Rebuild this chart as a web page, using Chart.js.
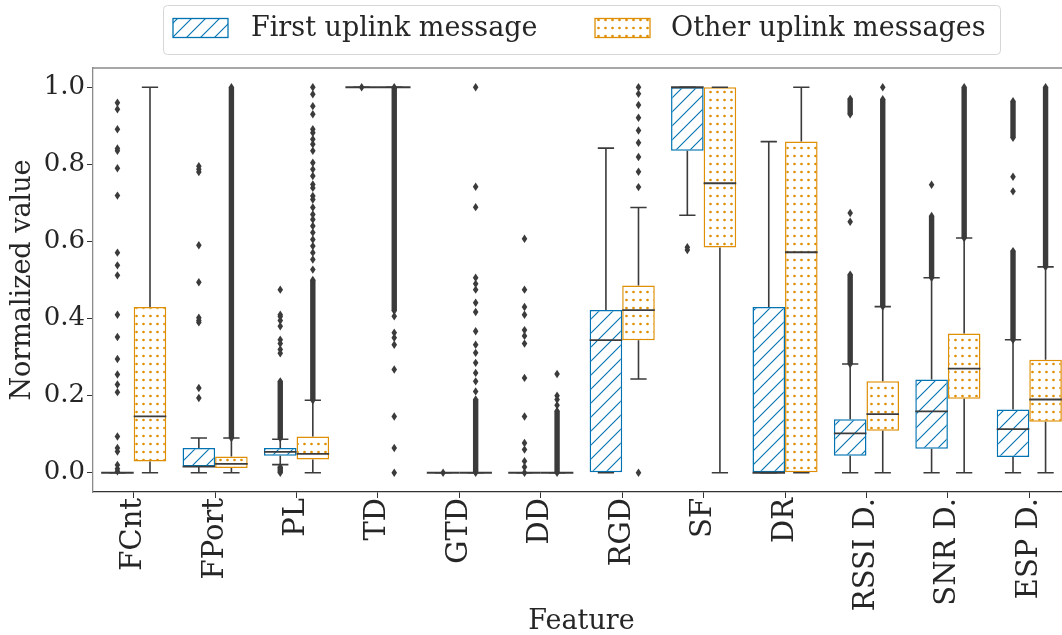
<!DOCTYPE html>
<html>
<head>
<meta charset="utf-8">
<script src="https://cdn.jsdelivr.net/npm/chart.js@4.4.0/dist/chart.umd.min.js"></script>
<style>
  html, body { margin: 0; padding: 0; background: #fff; overflow: hidden; }
  #wrap { width: 1080px; height: 635px; }
</style>
</head>
<body>
<div id="wrap"><canvas id="box"></canvas></div>
<script>
// --- data ---
const categories = ['FCnt', 'FPort', 'PL', 'TD', 'GTD', 'DD', 'RGD', 'SF', 'DR', 'RSSI D.', 'SNR D.', 'ESP D.'];
const yTicks = [0, 0.2, 0.4, 0.6, 0.8, 1.0];
const seriesNames = ['First uplink message', 'Other uplink messages'];

// first uplink message
const firstQ1  = [0, 0.016, 0.044, 1, 0, 0, 0,     0.835, 0,     0.044, 0.062, 0.041];
const firstQ3  = [0, 0.064, 0.064, 1, 0, 0, 0.422, 1.0,   0.430, 0.139, 0.242, 0.164];
const firstMed = [0, 0.016, 0.054, 1, 0, 0, 0.344, 1.0,   0,     0.102, 0.159, 0.113];
const firstLo  = [0, 0,     0.021, 1, 0, 0, 0,     0.668, 0,     0,     0,     0];
const firstHi  = [0, 0.090, 0.087, 1, 0, 0, 0.842, 1.0,   0.859, 0.282, 0.506, 0.345];
const firstOutliers = [
  [0.960, 0.943, 0.891, 0.841, 0.835, 0.790, 0.719, 0.571, 0.538, 0.512, 0.410, 0.352, 0.295, 0.255, 0.229, 0.209, 0.094, 0.064, 0.055, 0.02, 0.01, 0.004],
  [0.795, 0.787, 0.780, 0.590, 0.494, 0.402, 0.395, 0.390, 0.220, 0.194],
  [0.475, 0.410, 0.405, 0.395, 0.380, 0.345, 0.335, 0.320, 0.310],
  [1.0],
  [0],
  [0.607, 0.475, 0.430, 0.410, 0.370, 0.355, 0.335, 0.246, 0.146, 0.077, 0.060, 0.030, 0.015, 0],
  [],
  [0.585, 0.578],
  [],
  [0.674, 0.651],
  [0.747],
  [0.768, 0.730]
];
const firstBands = [
  [], [], [[0.09, 0.237], [0, 0.015]], [], [], [], [], [], [],
  [[0.282, 0.514], [0.930, 0.970]],
  [[0.506, 0.666]],
  [[0.345, 0.575], [0.869, 0.964]]
];

// other uplink messages
const otherQ1  = [0.029, 0.012, 0.034, 1, 0, 0, 0.344, 0.584, 0,     0.109, 0.192, 0.132];
const otherQ3  = [0.430, 0.042, 0.094, 1, 0, 0, 0.486, 1.0,   0.859, 0.237, 0.361, 0.293];
const otherMed = [0.146, 0.023, 0.049, 1, 0, 0, 0.422, 0.751, 0.572, 0.152, 0.270, 0.190];
const otherLo  = [0,     0,     0,     1, 0, 0, 0.243, 0,     0,     0,     0,     0];
const otherHi  = [1.0,   0.090, 0.188, 1, 0, 0, 0.688, 1.0,   1.0,   0.431, 0.609, 0.534];
const otherOutliers = [
  [],
  [],
  [1.0, 0.982, 0.951, 0.930, 0.891, 0.882, 0.865, 0.852, 0.835, 0.804, 0.787, 0.770, 0.748, 0.739, 0.718, 0.709, 0.688, 0.670, 0.657, 0.640, 0.623, 0.605, 0.588, 0.571, 0.553, 0.527],
  [0.406, 0.363, 0.350, 0.332, 0.268, 0.146, 0.064, 0.0],
  [1.0, 0.742, 0.689, 0.506, 0.490, 0.475, 0.441, 0.417, 0.367, 0.332, 0.311, 0.285, 0.259, 0.237, 0.211],
  [0.256, 0.200, 0.190, 0.175],
  [1.0, 0.983, 0.954, 0.921, 0.888, 0.856, 0.819, 0.781, 0.741, 0.0],
  [],
  [],
  [1.0],
  [],
  []
];
const otherBands = [
  [], [[0.09, 1.0]], [[0.188, 0.50]], [[0.42, 1.0]], [[0, 0.19]], [[0, 0.16]], [], [], [],
  [[0.431, 0.969]],
  [[0.609, 1.0]],
  [[0.534, 1.0]]
];

const blue = '#0173b2';
const orange = '#de8f05';
const lineCol = '#3b3b3b';
const font = 'DejaVu Serif';

function hatchPattern(color) {
  const n = 14;
  const c = document.createElement('canvas');
  c.width = n; c.height = n;
  const g = c.getContext('2d');
  g.fillStyle = '#fff';
  g.fillRect(0, 0, n, n);
  g.strokeStyle = color;
  g.lineWidth = 1.1;
  g.beginPath();
  g.moveTo(-1, n + 1); g.lineTo(n + 1, -1);
  g.moveTo(-5, 5); g.lineTo(5, -5);
  g.moveTo(n - 5, n + 5); g.lineTo(n + 5, n - 5);
  g.stroke();
  return g.createPattern(c, 'repeat');
}

function dotPattern(color) {
  const c = document.createElement('canvas');
  c.width = 7; c.height = 8;
  const g = c.getContext('2d');
  g.fillStyle = '#fff';
  g.fillRect(0, 0, 7, 8);
  g.fillStyle = color;
  g.beginPath();
  g.arc(3.5, 4, 1.35, 0, Math.PI * 2);
  g.fill();
  return g.createPattern(c, 'repeat');
}

const stats = [
  { q1: firstQ1, q3: firstQ3, med: firstMed, lo: firstLo, hi: firstHi, out: firstOutliers, bands: firstBands },
  { q1: otherQ1, q3: otherQ3, med: otherMed, lo: otherLo, hi: otherHi, out: otherOutliers, bands: otherBands }
];

function diamond(ctx, x, y) {
  ctx.beginPath();
  ctx.moveTo(x, y - 4.2);
  ctx.lineTo(x + 2.8, y);
  ctx.lineTo(x, y + 4.2);
  ctx.lineTo(x - 2.8, y);
  ctx.closePath();
  ctx.fill();
}

// whiskers, medians and fliers on top of the floating bars
const boxExtras = {
  id: 'boxExtras',
  afterDatasetsDraw(chart) {
    const ctx = chart.ctx;
    const ys = chart.scales.y;
    ctx.save();
    stats.forEach((s, d) => {
      const meta = chart.getDatasetMeta(d);
      meta.data.forEach((bar, i) => {
        const cx = bar.x, w = bar.width;
        const py = v => ys.getPixelForValue(v);
        ctx.fillStyle = lineCol;
        s.bands[i].forEach(b => {
          ctx.fillRect(cx - 2.7, py(b[1]), 5.4, py(b[0]) - py(b[1]));
          diamond(ctx, cx, py(b[0]));
          diamond(ctx, cx, py(b[1]));
        });
        s.out[i].forEach(v => diamond(ctx, cx, py(v)));

        ctx.strokeStyle = lineCol;
        ctx.lineWidth = 1.6;
        ctx.beginPath();
        if (s.hi[i] > s.q3[i]) {
          ctx.moveTo(cx, py(s.q3[i])); ctx.lineTo(cx, py(s.hi[i]));
        }
        if (s.lo[i] < s.q1[i]) {
          ctx.moveTo(cx, py(s.q1[i])); ctx.lineTo(cx, py(s.lo[i]));
        }
        ctx.moveTo(cx - w / 4, py(s.hi[i])); ctx.lineTo(cx + w / 4, py(s.hi[i]));
        ctx.moveTo(cx - w / 4, py(s.lo[i])); ctx.lineTo(cx + w / 4, py(s.lo[i]));
        ctx.stroke();

        ctx.lineWidth = 1.8;
        ctx.beginPath();
        ctx.moveTo(cx - w / 2, py(s.med[i])); ctx.lineTo(cx + w / 2, py(s.med[i]));
        ctx.stroke();
      });
    });
    ctx.restore();
  },
  afterDraw(chart) {
    const ctx = chart.ctx;
    const area = chart.chartArea;
    ctx.save();
    // top frame line
    ctx.strokeStyle = '#8a8a8a';
    ctx.lineWidth = 1.3;
    ctx.beginPath();
    ctx.moveTo(area.left, area.top);
    ctx.lineTo(area.right, area.top);
    ctx.stroke();

    // legend
    const lx = 163, ly = 5, lw = 837, lh = 49, r = 4;
    ctx.fillStyle = '#fff';
    ctx.strokeStyle = '#d6d6d6';
    ctx.lineWidth = 1;
    ctx.beginPath();
    ctx.roundRect(lx + 0.5, ly + 0.5, lw, lh, r);
    ctx.fill();
    ctx.stroke();

    const items = [
      { x: 173, tx: 251, ds: chart.data.datasets[0] },
      { x: 595, tx: 671, ds: chart.data.datasets[1] }
    ];
    items.forEach(it => {
      ctx.fillStyle = it.ds.backgroundColor;
      ctx.fillRect(it.x, 18.5, 55, 19);
      ctx.strokeStyle = it.ds.borderColor;
      ctx.lineWidth = 1.3;
      ctx.strokeRect(it.x, 18.5, 55, 19);
      ctx.fillStyle = '#262626';
      ctx.font = '27px "' + font + '"';
      ctx.textBaseline = 'middle';
      ctx.textAlign = 'left';
      ctx.fillText(it.ds.label, it.tx, 29);
    });
    ctx.restore();
  }
};

const ctx = document.getElementById('box').getContext('2d');
new Chart(ctx, {
  type: 'bar',
  data: {
    labels: categories,
    datasets: [
      {
        label: seriesNames[0],
        data: firstQ1.map((v, i) => [v, firstQ3[i]]),
        backgroundColor: hatchPattern(blue),
        borderColor: blue,
        borderWidth: 1.5,
        borderSkipped: false
      },
      {
        label: seriesNames[1],
        data: otherQ1.map((v, i) => [v, otherQ3[i]]),
        backgroundColor: dotPattern(orange),
        borderColor: orange,
        borderWidth: 1.5,
        borderSkipped: false
      }
    ]
  },
  options: {
    responsive: true,
    maintainAspectRatio: false,
    animation: false,
    categoryPercentage: 0.8,
    barPercentage: 1.0,
    layout: { padding: { top: 68, right: 10, left: 0, bottom: 0 } },
    plugins: { legend: { display: false }, tooltip: { enabled: false } },
    scales: {
      x: {
        grid: { display: true, offset: false, drawOnChartArea: false, tickLength: 6, color: '#333', lineWidth: 1 },
        border: { display: true, color: '#333', width: 1.3 },
        ticks: {
          autoSkip: false, minRotation: 90, maxRotation: 90, padding: 0,
          color: '#262626', font: { family: font, size: 29 }
        },
        title: {
          display: true, text: 'Feature', color: '#262626',
          font: { family: font, size: 27, lineHeight: 1 }, padding: { top: 0, bottom: 0 }
        },
        afterFit(scale) { scale.height = 143; }
      },
      y: {
        min: -0.05,
        max: 1.05,
        afterBuildTicks(scale) { scale.ticks = yTicks.map(v => ({ value: v })); },
        grid: { display: true, drawOnChartArea: false, tickLength: 6, color: '#333', lineWidth: 1 },
        border: { display: true, color: '#8a8a8a', width: 1.3 },
        ticks: {
          padding: 2, color: '#262626', font: { family: font, size: 26 },
          callback: v => Number(v).toFixed(1)
        },
        title: {
          display: true, text: 'Normalized value', color: '#262626',
          font: { family: font, size: 27, lineHeight: 1.2 }, padding: { top: 7, bottom: 0 }
        },
        afterFit(scale) { scale.width = 93; }
      }
    }
  },
  plugins: [boxExtras]
});
</script>
</body>
</html>
